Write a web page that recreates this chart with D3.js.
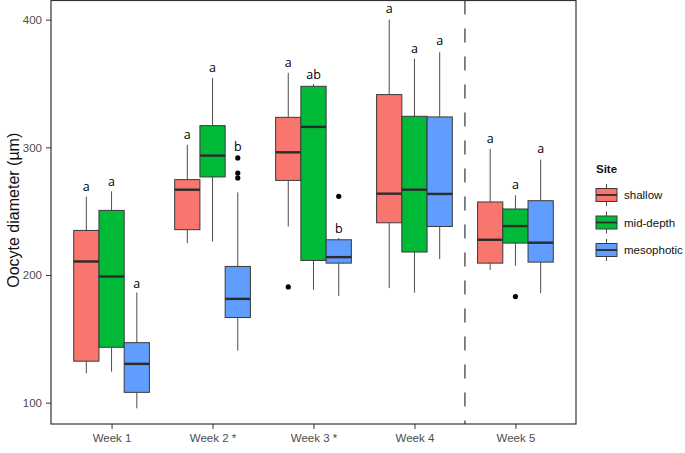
<!DOCTYPE html>
<html>
<head>
<meta charset="utf-8">
<script src="https://cdn.jsdelivr.net/npm/d3@7"></script>
<style>
  html, body { margin: 0; padding: 0; background: #fff; }
  svg { display: block; }
</style>
</head>
<body>
<svg id="chart" width="685" height="453"></svg>
<script>
// ---- data ----
const weeks = ["Week 1", "Week 2 *", "Week 3 *", "Week 4", "Week 5"];
const sites = ["shallow", "mid-depth", "mesophotic"];
const siteColors = ["#F8766D", "#00BA38", "#619CFF"];
const yTicks = [100, 200, 300, 400];

// [lower whisker, Q1, median, Q3, upper whisker] per week
const shallowStats = [
  [123, 132.5, 210.6, 234.9, 261.4],
  [225, 235.5, 266.8, 274.7, 302],
  [238, 274.1, 296.1, 323.5, 358.3],
  [189.7, 240.9, 263.7, 341.3, 400],
  [204, 209.3, 227.6, 257.2, 298.7]
];
const midStats = [
  [124.3, 143.4, 198.8, 250.6, 265.5],
  [226.3, 276.8, 293.5, 317, 354.4],
  [188.4, 211.4, 316, 347.8, 349.5],
  [186.2, 218, 266.8, 324.3, 369.6],
  [207.2, 225, 238.3, 251.7, 262.4]
];
const mesoStats = [
  [95.6, 108.1, 130.4, 147, 186.3],
  [140.8, 166.7, 181.3, 206.7, 264.7],
  [183.7, 209.3, 214, 227.6, 229],
  [212.5, 238, 263.5, 323.8, 374.5],
  [185.8, 210.1, 225.3, 258.2, 290.4]
];
// outliers: [week index, site index, value]
const outliers = [
  [1, 2, 291.7], [1, 2, 279.9], [1, 2, 276],
  [2, 0, 190.7], [2, 2, 261.6],
  [4, 1, 183.1]
];
// significance letters and their baseline values
const shallowLetters = ["a", "a", "a", "a", "a"];
const midLetters = ["a", "a", "ab", "a", "a"];
const mesoLetters = ["a", "b", "b", "a", "a"];
const shallowLetterY = [266, 306.3, 363.3, 405.6, 303];
const midLetterY = [270, 359, 353.8, 373.7, 267.6];
const mesoLetterY = [190, 297.4, 232.7, 379.8, 295.3];

const allStats = [shallowStats, midStats, mesoStats];
const allLetters = [shallowLetters, midLetters, mesoLetters];
const allLetterY = [shallowLetterY, midLetterY, mesoLetterY];

// ---- layout ----
const svg = d3.select("#chart");
const panel = { left: 51, right: 576, top: 0.5, bottom: 424 };

const x = d3.scalePoint().domain(weeks).range([panel.left, panel.right]).padding(0.6);
const step = x.step();
const boxW = step * 0.25;
const siteOffset = d3.scalePoint().domain(sites).range([-step * 0.25, step * 0.25]);
const y = d3.scaleLinear().domain([83.3, 415]).range([panel.bottom, panel.top]);

const g = svg.append("g");

// boxes
sites.forEach((site, si) => {
  const stats = allStats[si];
  weeks.forEach((wk, wi) => {
    const s = stats[wi];
    const cx = x(wk) + siteOffset(site);
    const bg = g.append("g");
    // whiskers
    bg.append("line").attr("x1", cx).attr("x2", cx)
      .attr("y1", y(s[4])).attr("y2", y(s[3]))
      .attr("stroke", "#4d4d4d").attr("stroke-width", 1);
    bg.append("line").attr("x1", cx).attr("x2", cx)
      .attr("y1", y(s[1])).attr("y2", y(s[0]))
      .attr("stroke", "#4d4d4d").attr("stroke-width", 1);
    // box
    bg.append("rect")
      .attr("x", cx - boxW / 2).attr("width", boxW)
      .attr("y", y(s[3])).attr("height", y(s[1]) - y(s[3]))
      .attr("fill", siteColors[si]).attr("stroke", "#3a3a3a").attr("stroke-width", 1);
    // median
    bg.append("line").attr("x1", cx - boxW / 2).attr("x2", cx + boxW / 2)
      .attr("y1", y(s[2])).attr("y2", y(s[2]))
      .attr("stroke", "#2b2b2b").attr("stroke-width", 2.4);
    // letter
    g.append("text")
      .attr("x", cx).attr("y", y(allLetterY[si][wi]))
      .attr("text-anchor", "middle")
      .attr("font-family", "'Open Sans', sans-serif")
      .attr("font-size", 12.5)
      .attr("fill", "#000")
      .text(allLetters[si][wi]);
  });
});

// outliers
g.selectAll("circle.out").data(outliers).join("circle")
  .attr("class", "out")
  .attr("cx", d => x(weeks[d[0]]) + siteOffset(sites[d[1]]))
  .attr("cy", d => y(d[2]))
  .attr("r", 2.6)
  .attr("fill", "#000");

// dashed separator between week 4 and week 5
const sepX = (x(weeks[3]) + x(weeks[4])) / 2;
g.append("line")
  .attr("x1", sepX).attr("x2", sepX)
  .attr("y1", panel.top).attr("y2", panel.bottom)
  .attr("stroke", "#222").attr("stroke-width", 1.1)
  .attr("stroke-dasharray", "14,14");

// panel border
svg.append("rect")
  .attr("x", panel.left).attr("y", panel.top)
  .attr("width", panel.right - panel.left).attr("height", panel.bottom - panel.top)
  .attr("fill", "none").attr("stroke", "#333").attr("stroke-width", 1.2);

// axes
const yAxis = d3.axisLeft(y).tickValues(yTicks).tickSize(5).tickPadding(4);
const ya = svg.append("g").attr("transform", `translate(${panel.left},0)`).call(yAxis);
ya.select(".domain").remove();
ya.selectAll("line").attr("stroke", "#333");
ya.selectAll("text").attr("font-family", "'Liberation Sans', Arial, sans-serif")
  .attr("font-size", 11.5).attr("fill", "#4d4d4d");

const xAxis = d3.axisBottom(x).tickSize(5).tickPadding(5);
const xa = svg.append("g").attr("transform", `translate(0,${panel.bottom})`).call(xAxis);
xa.select(".domain").remove();
xa.selectAll("line").attr("stroke", "#333");
xa.selectAll("text").attr("font-family", "'Liberation Sans', Arial, sans-serif")
  .attr("font-size", 11.5).attr("fill", "#4d4d4d");

// y title
svg.append("text")
  .attr("transform", `translate(19,${(panel.top + panel.bottom) / 2 - 2}) rotate(-90)`)
  .attr("text-anchor", "middle")
  .attr("font-family", "'Liberation Sans', Arial, sans-serif")
  .attr("font-size", 16)
  .attr("fill", "#111")
  .text("Oocyte diameter (µm)");

// legend
const lg = svg.append("g").attr("transform", "translate(596,0)");
lg.append("text").attr("x", 0).attr("y", 173)
  .attr("font-family", "'Liberation Sans', Arial, sans-serif")
  .attr("font-weight", "bold").attr("font-size", 11.5).attr("fill", "#111")
  .text("Site");
sites.forEach((site, si) => {
  const cy = 195 + si * 27.5;
  const kw = 21;
  lg.append("line").attr("x1", kw / 2).attr("x2", kw / 2)
    .attr("y1", cy - 11).attr("y2", cy + 11)
    .attr("stroke", "#4d4d4d");
  lg.append("rect").attr("x", 0).attr("y", cy - 6.5).attr("width", kw).attr("height", 13)
    .attr("fill", siteColors[si]).attr("stroke", "#3a3a3a");
  lg.append("line").attr("x1", 0).attr("x2", kw)
    .attr("y1", cy).attr("y2", cy)
    .attr("stroke", "#2b2b2b").attr("stroke-width", 1.8);
  lg.append("text").attr("x", 28).attr("y", cy + 4)
    .attr("font-family", "'Liberation Sans', Arial, sans-serif")
    .attr("font-size", 11.5).attr("fill", "#111")
    .text(site);
});
</script>
</body>
</html>
